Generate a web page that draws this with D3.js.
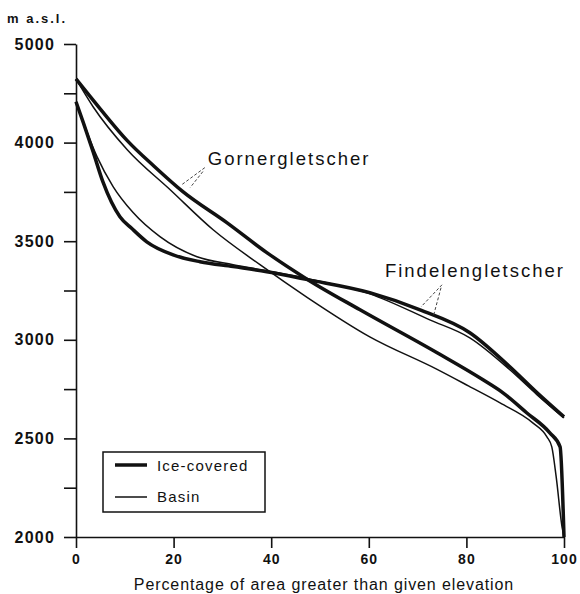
<!DOCTYPE html>
<html>
<head>
<meta charset="utf-8">
<script src="https://cdn.jsdelivr.net/npm/d3@7"></script>
<style>
  body { margin: 0; background: #fff; }
  text { font-family: "Liberation Sans", Arial, Helvetica, sans-serif; fill: #111; }
</style>
</head>
<body>
<div class="canvas"></div>
<script>
// percentage of area above elevation (x) and elevation in m a.s.l. (y)
const gornerIceX = [0, 5, 10.5, 16, 21.9, 30.9, 39.1, 47.5, 58.2, 74.0, 83.4, 87.5, 92.4, 97.1, 99.2, 100];
const gornerIceY = [4646, 4340, 4020, 3880, 3751, 3594, 3442, 3305, 3152, 2934, 2797, 2731, 2629, 2528, 2457, 2000];

const gornerBasinX = [0, 3.5, 10.5, 19.3, 28.1, 37.7, 47.5, 60.2, 74.0, 80.5, 86.9, 93.6, 96.5, 97.5, 98.4, 99.6, 100];
const gornerBasinY = [4646, 4364, 3964, 3761, 3558, 3381, 3213, 3015, 2850, 2765, 2680, 2579, 2508, 2457, 2305, 2051, 2000];

const findelenIceX = [0, 1.5, 3.5, 5.5, 9.0, 11.5, 14.5, 19.9, 25.4, 32.2, 39.1, 47.5, 60.2, 70.5, 80.7, 88.9, 94.5, 100];
const findelenIceY = [4414, 4202, 3954, 3802, 3624, 3563, 3497, 3431, 3396, 3371, 3345, 3305, 3239, 3152, 3036, 2863, 2731, 2609];

const findelenBasinX = [0, 4.3, 7.6, 11.7, 17.2, 24.8, 32.2, 39.1, 47.5, 60.2, 72.5, 80.7, 88.9, 94.5, 100];
const findelenBasinY = [4414, 3929, 3777, 3645, 3523, 3421, 3381, 3350, 3310, 3233, 3101, 3010, 2848, 2721, 2604];

// axis ticks
const xTicks = [0, 20, 40, 60, 80, 100];
const yTicks = [2000, 2250, 2500, 2750, 3000, 3250, 3500, 3750, 4000, 4500, 5000];
const yLabels = [2000, 2500, 3000, 3500, 4000, 5000];

// labels with leader lines: [x, y] of text, and leader segments
const labels = [
    { name: 'Gornergletscher', at: [27.0, 3888],
      leaders: [[[26.4, 3873], [21.7, 3787]], [[26.0, 3853], [23.4, 3772]]] },
    { name: 'Findelengletscher', at: [63.3, 3320],
      leaders: [[[75.0, 3279], [70.7, 3167]], [[74.8, 3264], [73.2, 3117]]] }
];

const svg = d3.select('.canvas')
    .append('svg')
    .attr('width', 580)
    .attr('height', 594);

// create margins & dimensions
const margin = { top: 44, right: 16, bottom: 57, left: 76 };
const graphWidth = 580 - margin.left - margin.right;
const graphHeight = 594 - margin.top - margin.bottom;

const graph = svg.append('g')
    .attr('transform', `translate(${margin.left}, ${margin.top})`);

const x = d3.scaleLinear()
    .domain([0, 100])
    .range([0, graphWidth]);

// the original figure squeezes 4000-5000 into the same space as 500 m
const y = d3.scaleLinear()
    .domain([2000, 4000, 5000])
    .range([graphHeight, graphHeight * 0.2, 0]);

const line = d3.line()
    .x(d => x(d[0]))
    .y(d => y(d[1]))
    .curve(d3.curveMonotoneX);

const series = [
    { xs: gornerBasinX, ys: gornerBasinY, w: 1.5 },
    { xs: findelenBasinX, ys: findelenBasinY, w: 1.5 },
    { xs: gornerIceX, ys: gornerIceY, w: 3.5 },
    { xs: findelenIceX, ys: findelenIceY, w: 3.5 }
];

graph.selectAll('path.curve')
    .data(series)
    .enter()
    .append('path')
    .attr('class', 'curve')
    .attr('d', s => line(s.xs.map((v, i) => [v, s.ys[i]])))
    .attr('fill', 'none')
    .attr('stroke', '#111')
    .attr('stroke-width', s => s.w)
    .attr('stroke-linejoin', 'round');

// axes
const xAxisGroup = graph.append('g')
    .attr('transform', `translate(0, ${graphHeight})`);
const yAxisGroup = graph.append('g');

const xAxis = d3.axisBottom(x)
    .tickValues(xTicks)
    .tickSize(11)
    .tickSizeOuter(0)
    .tickPadding(6);
const yAxis = d3.axisLeft(y)
    .tickValues(yTicks)
    .tickSize(12)
    .tickSizeOuter(0)
    .tickPadding(9)
    .tickFormat(d => yLabels.includes(d) ? d : '');

xAxisGroup.call(xAxis);
yAxisGroup.call(yAxis);

xAxisGroup.selectAll('text')
    .attr('font-size', 14)
    .attr('font-weight', 'bold')
    .attr('letter-spacing', 1);
yAxisGroup.selectAll('text')
    .attr('font-size', 16)
    .attr('font-weight', 'bold')
    .attr('letter-spacing', 1.2);
graph.selectAll('.domain, .tick line')
    .attr('stroke', '#111')
    .attr('stroke-width', 1.6);

// unit label and axis title
svg.append('text')
    .attr('x', 7)
    .attr('y', 23)
    .attr('font-size', 13)
    .attr('font-weight', 'bold')
    .attr('letter-spacing', 2)
    .text('m a.s.l.');

svg.append('text')
    .attr('x', margin.left + graphWidth / 2 + 4)
    .attr('y', 590)
    .attr('text-anchor', 'middle')
    .attr('font-size', 16)
    .attr('letter-spacing', 0.9)
    .text('Percentage of area greater than given elevation');

// glacier names with dashed leaders
labels.forEach(l => {
    graph.append('text')
        .attr('x', x(l.at[0]))
        .attr('y', y(l.at[1]))
        .attr('font-size', 18.5)
        .attr('letter-spacing', 2)
        .text(l.name);
    l.leaders.forEach(seg => {
        graph.append('line')
            .attr('x1', x(seg[0][0])).attr('y1', y(seg[0][1]))
            .attr('x2', x(seg[1][0])).attr('y2', y(seg[1][1]))
            .attr('stroke', '#444')
            .attr('stroke-width', 1)
            .attr('stroke-dasharray', '3,2');
    });
});

// legend
const legend = svg.append('g')
    .attr('transform', 'translate(103, 452)');
legend.append('rect')
    .attr('width', 162)
    .attr('height', 60)
    .attr('fill', '#fff')
    .attr('stroke', '#111')
    .attr('stroke-width', 1.5);
const legendItems = [
    { name: 'Ice-covered', w: 3.5 },
    { name: 'Basin', w: 1.5 }
];
legendItems.forEach((d, i) => {
    legend.append('line')
        .attr('x1', 12).attr('x2', 44)
        .attr('y1', 13 + i * 32).attr('y2', 13 + i * 32)
        .attr('stroke', '#111')
        .attr('stroke-width', d.w);
    legend.append('text')
        .attr('x', 54)
        .attr('y', 19 + i * 31)
        .attr('font-size', 15)
        .attr('letter-spacing', 1.2)
        .text(d.name);
});
</script>
</body>
</html>
